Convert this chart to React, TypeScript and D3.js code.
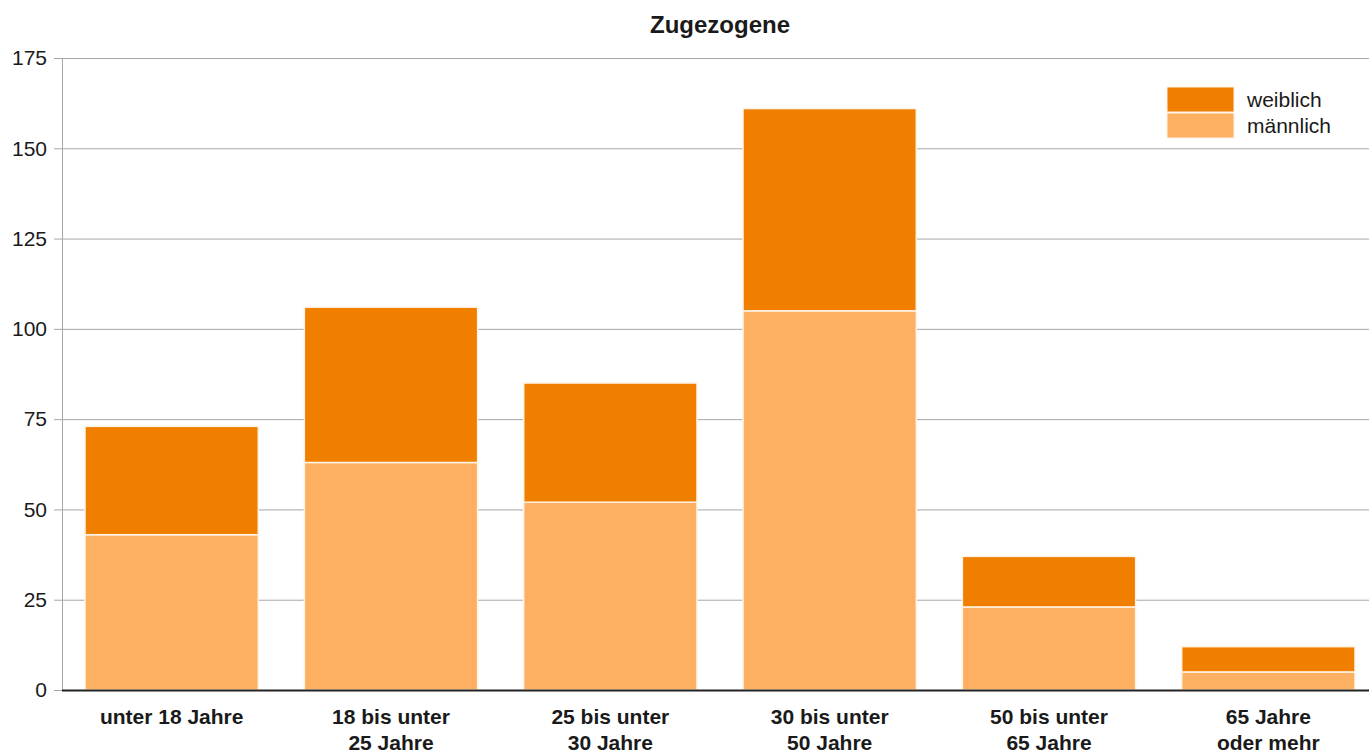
import * as d3 from 'd3';
import { useCallback } from 'react';

const categories = [
  ['unter 18 Jahre'],
  ['18 bis unter', '25 Jahre'],
  ['25 bis unter', '30 Jahre'],
  ['30 bis unter', '50 Jahre'],
  ['50 bis unter', '65 Jahre'],
  ['65 Jahre', 'oder mehr'],
];
const maennlich = [43, 63, 52, 105, 23, 5];
const weiblich = [30, 43, 33, 56, 14, 7];
const yTicks = [0, 25, 50, 75, 100, 125, 150, 175];
const seriesNames = ['weiblich', 'männlich'];
const seriesColors = ['#f07f00', '#feb062'];

const W = 1369;
const H = 754;
const left = 62;
const top = 58;
const bottom = 690;
const right = 1378;
const font = '"Liberation Sans", Arial, Helvetica, sans-serif';

const App = () => {
  const draw = useCallback((ref: SVGSVGElement | null) => {
    if (!ref) return;
    const svg = d3.select(ref);
    svg.selectAll('*').remove();

    const keys = categories.map((c) => c.join(' '));
    const x = d3.scaleBand().domain(keys).range([left, right]).paddingInner(0.21).paddingOuter(0.105);
    const y = d3.scaleLinear().domain([0, 175]).range([bottom, top]);

    // grid
    svg
      .append('g')
      .selectAll('line')
      .data(yTicks)
      .join('line')
      .attr('x1', left - 8)
      .attr('x2', W)
      .attr('y1', (d) => y(d) + 0.5)
      .attr('y2', (d) => y(d) + 0.5)
      .attr('stroke', '#a6a6a6')
      .attr('stroke-width', 1);

    svg
      .append('line')
      .attr('x1', left + 0.5)
      .attr('x2', left + 0.5)
      .attr('y1', top)
      .attr('y2', bottom)
      .attr('stroke', '#a6a6a6');

    svg
      .append('g')
      .selectAll('text')
      .data(yTicks)
      .join('text')
      .attr('x', left - 15)
      .attr('y', (d) => y(d))
      .attr('dy', '0.35em')
      .attr('text-anchor', 'end')
      .attr('font-family', font)
      .attr('font-size', 21)
      .attr('fill', '#1a1a1a')
      .text((d) => d);

    // stacked bars
    const rows = keys.map((k, i) => ({ key: k, männlich: maennlich[i], weiblich: weiblich[i] }));
    const stack = d3.stack<any>().keys(['männlich', 'weiblich'])(rows);
    const colorOf = (k: string) => seriesColors[seriesNames.indexOf(k)];

    stack.forEach((layer) => {
      svg
        .append('g')
        .selectAll('rect')
        .data(layer)
        .join('rect')
        .attr('x', (d: any) => x(d.data.key)!)
        .attr('width', x.bandwidth())
        .attr('y', (d) => y(d[1]))
        .attr('height', (d) => y(d[0]) - y(d[1]))
        .attr('fill', colorOf(layer.key))
        .attr('stroke', '#fff3e6')
        .attr('stroke-width', 1.5);
    });

    // baseline
    svg
      .append('line')
      .attr('x1', left)
      .attr('x2', W)
      .attr('y1', bottom + 0.5)
      .attr('y2', bottom + 0.5)
      .attr('stroke', '#222')
      .attr('stroke-width', 2);

    // x labels
    const xl = svg
      .append('g')
      .selectAll('text')
      .data(categories)
      .join('text')
      .attr('x', (d) => x(d.join(' '))! + x.bandwidth() / 2)
      .attr('y', 724)
      .attr('text-anchor', 'middle')
      .attr('font-family', font)
      .attr('font-size', 21)
      .attr('font-weight', 'bold')
      .attr('fill', '#1a1a1a');
    xl.each(function (d) {
      const t = d3.select(this);
      d.forEach((line, i) => {
        t.append('tspan')
          .attr('x', t.attr('x'))
          .attr('dy', i === 0 ? 0 : 26)
          .text(line);
      });
    });

    // title
    svg
      .append('text')
      .attr('x', 720)
      .attr('y', 33)
      .attr('text-anchor', 'middle')
      .attr('font-family', font)
      .attr('font-size', 24)
      .attr('font-weight', 'bold')
      .attr('fill', '#1a1a1a')
      .text('Zugezogene');

    // legend
    const lg = svg.append('g').attr('transform', 'translate(1167, 87)');
    seriesNames.forEach((name, i) => {
      lg.append('rect')
        .attr('x', 0)
        .attr('y', i * 26)
        .attr('width', 67)
        .attr('height', 25)
        .attr('fill', seriesColors[i])
        .attr('stroke', '#fff3e6')
        .attr('stroke-width', 1);
      lg.append('text')
        .attr('x', 80)
        .attr('y', i * 26 + 13)
        .attr('dy', '0.35em')
        .attr('font-family', font)
        .attr('font-size', 21)
        .attr('fill', '#1a1a1a')
        .text(name);
    });
  }, []);

  return (
    <svg
      width={W}
      height={H}
      ref={draw}
      style={{ position: 'absolute', left: 0, top: 0, background: '#fff' }}
    ></svg>
  );
};

export default App;
